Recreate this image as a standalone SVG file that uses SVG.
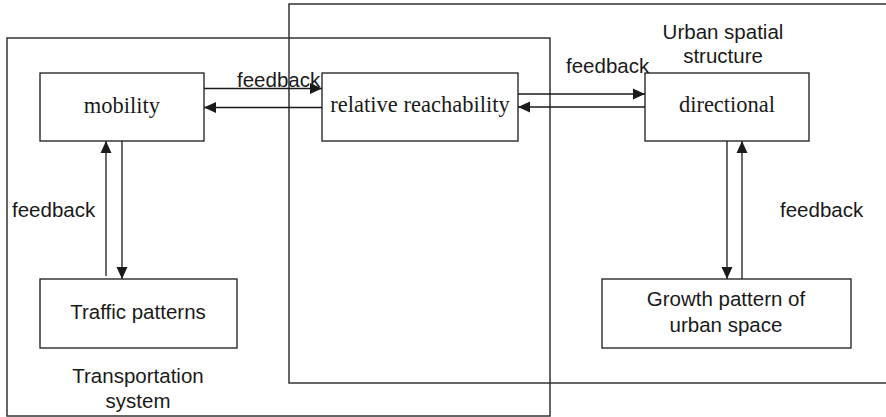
<svg xmlns="http://www.w3.org/2000/svg" width="886" height="417" viewBox="0 0 886 417">
<style>
.box{fill:none;stroke:#1a1a1a;stroke-width:1.3}
.frame{fill:none;stroke:#333;stroke-width:1.5}
.ln{fill:none;stroke:#1a1a1a;stroke-width:1.3}
.sans{font-family:"Liberation Sans",Arial,sans-serif;font-size:20.5px;fill:#1a1a1a}
.serif{font-family:"Liberation Serif","Times New Roman",serif;font-size:22.5px;fill:#1a1a1a}
</style>
<defs>
<marker id="ah" markerUnits="userSpaceOnUse" markerWidth="13" markerHeight="12" refX="12" refY="6" orient="auto">
<path d="M0,0.5 L12,6 L0,11.5 Z" fill="#1a1a1a"/>
</marker>
</defs>
<g id="transportation-system">
<rect class="frame" x="7" y="38" width="543" height="378"/>
<text class="sans" text-anchor="middle" x="138" y="383">Transportation</text>
<text class="sans" text-anchor="middle" x="138" y="408">system</text>
</g>
<g id="urban-spatial-structure">
<rect class="frame" x="289" y="4" width="610" height="379"/>
<text class="sans" text-anchor="middle" x="723" y="39">Urban spatial</text>
<text class="sans" text-anchor="middle" x="723" y="63">structure</text>
</g>
<g id="mobility">
<rect class="box" x="40" y="73" width="164" height="68"/>
<text class="serif" text-anchor="middle" x="122" y="113">mobility</text>
</g>
<g id="relative-reachability">
<rect class="box" x="322" y="73" width="196" height="68"/>
<text class="serif" text-anchor="middle" x="420" y="112">relative reachability</text>
</g>
<g id="directional">
<rect class="box" x="645" y="73" width="164" height="68"/>
<text class="serif" text-anchor="middle" x="727" y="112">directional</text>
</g>
<g id="traffic-patterns">
<rect class="box" x="40" y="279" width="197" height="69"/>
<text class="sans" text-anchor="middle" x="138" y="319">Traffic patterns</text>
</g>
<g id="growth-pattern">
<rect class="box" x="602" y="279" width="249" height="69"/>
<text class="sans" text-anchor="middle" x="726" y="306">Growth pattern of</text>
<text class="sans" text-anchor="middle" x="726" y="332">urban space</text>
</g>
<g id="connectors">
<line class="ln" x1="204" y1="88.5" x2="322" y2="88.5" marker-end="url(#ah)"/>
<line class="ln" x1="322" y1="107.5" x2="204" y2="107.5" marker-end="url(#ah)"/>
<line class="ln" x1="518" y1="94" x2="645" y2="94" marker-end="url(#ah)"/>
<line class="ln" x1="645" y1="107" x2="518" y2="107" marker-end="url(#ah)"/>
<line class="ln" x1="106" y1="276" x2="106" y2="141" marker-end="url(#ah)"/>
<line class="ln" x1="122" y1="141" x2="122" y2="279" marker-end="url(#ah)"/>
<line class="ln" x1="727" y1="141" x2="727" y2="279" marker-end="url(#ah)"/>
<line class="ln" x1="742" y1="279" x2="742" y2="141" marker-end="url(#ah)"/>
<text class="sans" x="237" y="87">feedback</text>
<text class="sans" x="566" y="73">feedback</text>
<text class="sans" x="12" y="217">feedback</text>
<text class="sans" x="780" y="217">feedback</text>
</g>
</svg>
